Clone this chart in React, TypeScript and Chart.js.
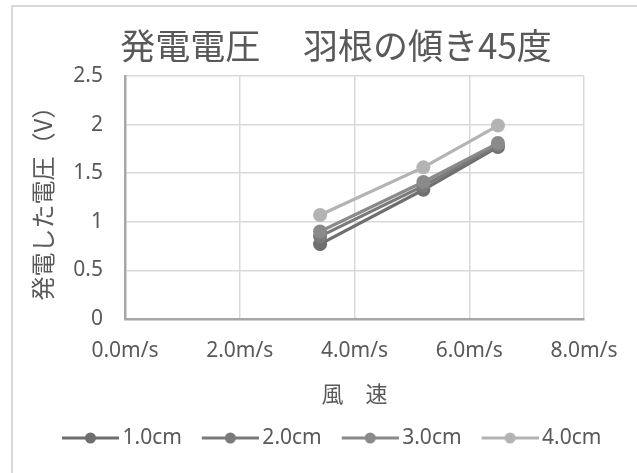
import { useEffect, useRef } from "react";
import { Chart, registerables } from "chart.js";

Chart.register(...registerables);

// ---- data ----
const windSpeeds = [3.4, 5.2, 6.5];
const seriesNames = ["1.0cm", "2.0cm", "3.0cm", "4.0cm"];
const volt10 = [0.77, 1.33, 1.77];
const volt20 = [0.85, 1.37, 1.79];
const volt30 = [0.9, 1.41, 1.81];
const volt40 = [1.07, 1.56, 1.99];
const seriesColors = ["#6f6f6f", "#7a7a7a", "#8a8a8a", "#b3b3b3"];
const xTickLabels = ["0.0m/s", "2.0m/s", "4.0m/s", "6.0m/s", "8.0m/s"];
const yTickLabels = ["0", "0.5", "1", "1.5", "2", "2.5"];
const chartTitle = "発電電圧　 羽根の傾き45度";
const xTitle = "風　速";
const yTitle = "発電した電圧（V）";

const TEXT = "#595959";
const LATIN = '"Noto Sans", "Noto Sans CJK JP", sans-serif';
const CJK = '"Noto Sans CJK JP", "Noto Sans", sans-serif';

function makeLegendMarker(color: string) {
  const c = document.createElement("canvas");
  c.width = 74;
  c.height = 14;
  const g = c.getContext("2d")!;
  g.strokeStyle = color;
  g.lineWidth = 3;
  g.beginPath();
  g.moveTo(17, 7);
  g.lineTo(74, 7);
  g.stroke();
  g.fillStyle = color;
  g.beginPath();
  g.arc(45.5, 7, 5.5, 0, Math.PI * 2);
  g.fill();
  return c;
}

const outerBorder = {
  id: "outerBorder",
  beforeDraw(chart: any) {
    const { ctx } = chart;
    ctx.save();
    ctx.fillStyle = "#ffffff";
    ctx.fillRect(0, 0, chart.width, chart.height);
    ctx.strokeStyle = "#d9d9d9";
    ctx.lineWidth = 2;
    ctx.strokeRect(12, 6, chart.width + 40, chart.height + 40);
    ctx.restore();
  },
};

export default function App() {
  const ref = useRef<HTMLCanvasElement>(null);

  useEffect(() => {
    if (!ref.current) return;
    const seriesValues = [volt10, volt20, volt30, volt40];
    const markers = seriesColors.map((c) => makeLegendMarker(c));
    const datasets = seriesNames.map((name, i) => ({
      label: name,
      data: windSpeeds.map((x, j) => ({ x, y: seriesValues[i][j] })),
      showLine: true,
      borderColor: seriesColors[i],
      backgroundColor: seriesColors[i],
      pointBackgroundColor: seriesColors[i],
      pointBorderColor: seriesColors[i],
      borderWidth: 3.2,
      pointRadius: 7,
      pointBorderWidth: 0,
      order: seriesNames.length - i,
    }));

    const chart = new Chart(ref.current, {
      type: "scatter",
      data: { datasets },
      plugins: [outerBorder],
      options: {
        animation: false,
        responsive: false,
        maintainAspectRatio: false,
        devicePixelRatio: 1,
        layout: { padding: { left: 42, right: 7, top: 0, bottom: 14.5 } },
        plugins: {
          tooltip: { enabled: false },
          title: {
            display: true,
            text: chartTitle,
            color: TEXT,
            font: { family: CJK, size: 35, weight: "normal" },
            padding: { top: 24.5, bottom: 9.5 },
          },
          legend: {
            position: "bottom",
            align: "start",
            labels: {
              usePointStyle: true,
              pointStyleWidth: 60,
              padding: 10,
              color: TEXT,
              font: { family: LATIN, size: 21 },
              generateLabels: (c: any) => {
                const items = (Chart as any).defaults.plugins.legend.labels.generateLabels(c);
                items.forEach((it: any) => {
                  it.pointStyle = markers[it.datasetIndex];
                });
                return items;
              },
              sort: (a: any, b: any) => a.datasetIndex - b.datasetIndex,
            },
          },
        },
        scales: {
          x: {
            type: "linear",
            min: 0,
            max: 8,
            ticks: {
              stepSize: 2,
              padding: 19.4,
              color: TEXT,
              font: { family: LATIN, size: 21 },
              callback: (_v: any, i: number) => xTickLabels[i],
            },
            grid: {
              drawTicks: false,
              color: (ctx: any) => (ctx.index === 0 ? "rgba(0,0,0,0)" : "#d9d9d9"),
              lineWidth: 1.5,
            },
            border: { color: "#a6a6a6", width: 2.5 },
            title: {
              display: true,
              text: xTitle,
              color: TEXT,
              font: { family: CJK, size: 22 },
              padding: { top: 0, bottom: 10.3 },
            },
            afterFit: (s: any) => {
              s.height = 98.5;
            },
          },
          y: {
            type: "linear",
            position: "left",
            min: 0,
            max: 2.5,
            ticks: {
              stepSize: 0.5,
              padding: 22,
              color: TEXT,
              font: { family: LATIN, size: 21 },
              callback: (_v: any, i: number) => yTickLabels[i],
            },
            grid: {
              drawTicks: false,
              color: (ctx: any) => (ctx.index === 0 ? "rgba(0,0,0,0)" : "#d9d9d9"),
              lineWidth: 1.5,
            },
            border: { color: "#a6a6a6", width: 2.5 },
            title: {
              display: true,
              text: yTitle,
              color: TEXT,
              font: { family: CJK, size: 24 },
              padding: { top: -13.7, bottom: 0 },
            },
            afterFit: (s: any) => {
              s.width = 83;
            },
          },
          yR: {
            type: "linear",
            position: "right",
            display: true,
            grid: { display: false, drawTicks: false },
            ticks: { display: false },
            border: { display: false },
            afterFit: (s: any) => {
              s.width = 42;
            },
          },
        },
      } as any,
    });
    return () => chart.destroy();
  }, []);

  return (
    <div style={{ position: "fixed", left: 0, top: 0, width: 637, height: 473, background: "#fff" }}>
      <canvas ref={ref} width={637} height={473} style={{ display: "block" }} />
    </div>
  );
}
